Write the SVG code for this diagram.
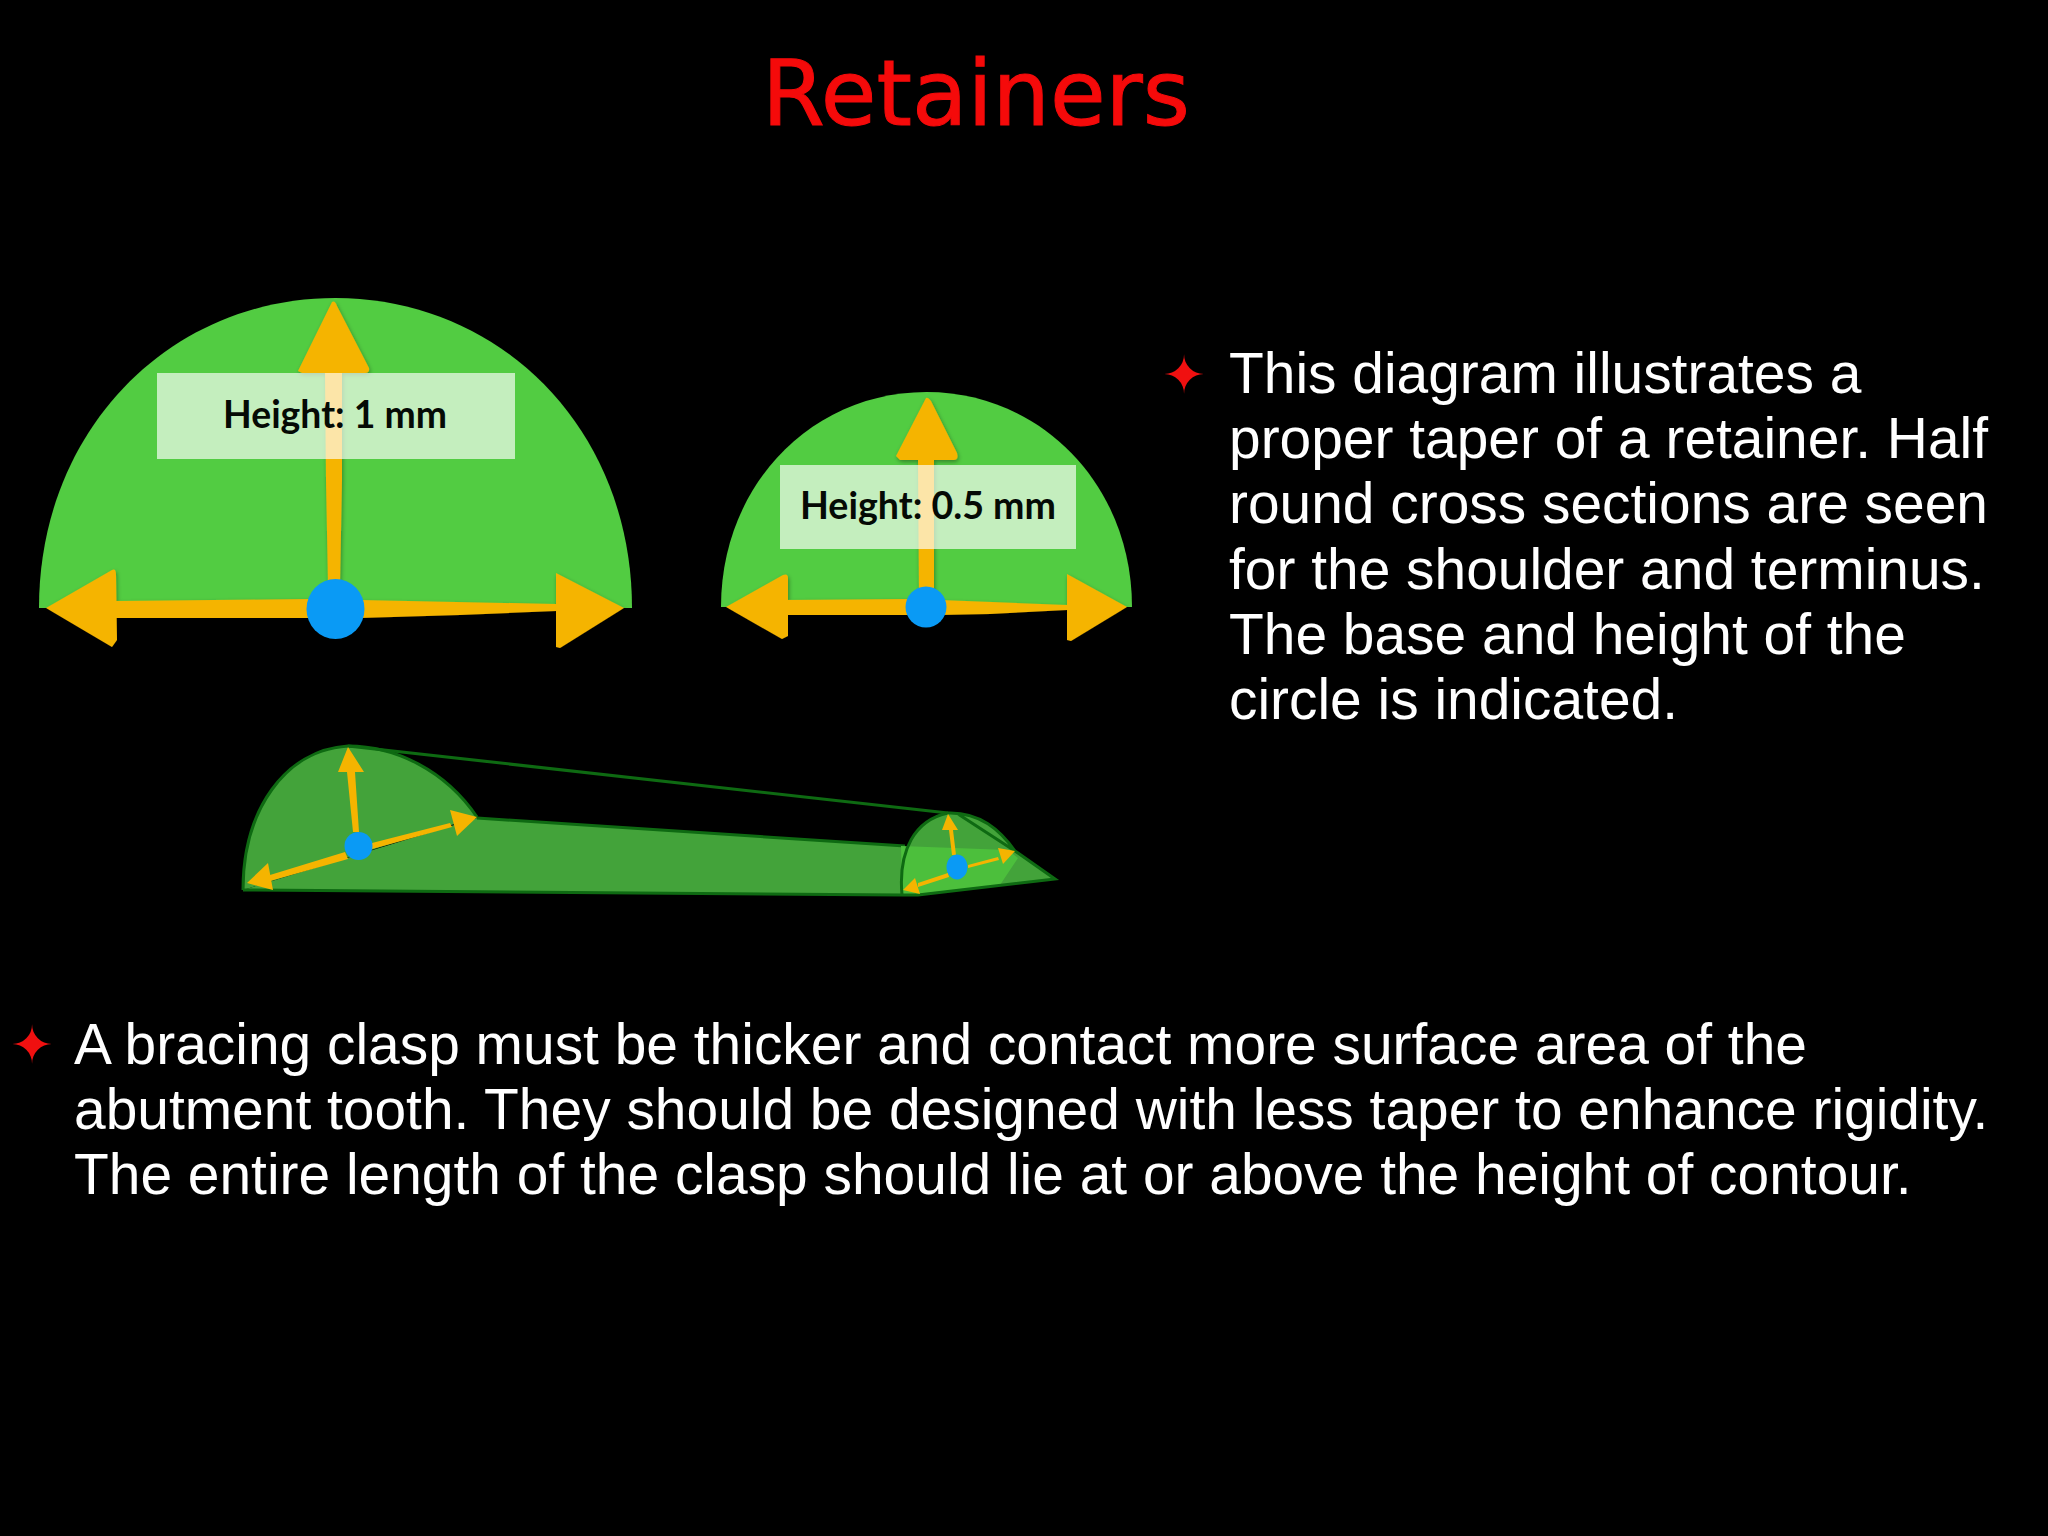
<svg xmlns="http://www.w3.org/2000/svg" width="2048" height="1536" viewBox="0 0 2048 1536">
<defs>
<filter id="sh" x="-10%" y="-10%" width="120%" height="120%"><feDropShadow dx="1" dy="2" stdDeviation="2" flood-color="#000" flood-opacity=".35"/></filter>
</defs>
<style>
.amber{fill:#f5b400}
.blue{fill:#0a9af5}
.semi{fill:#52cc42}
.label{fill:#fff;fill-opacity:.66}
.lt{font-family:"Lato","Liberation Sans",sans-serif;font-weight:700;fill:#050a05;text-anchor:middle}
.body{font-family:"Liberation Sans",Arial,sans-serif;font-size:56.900px;fill:#fff}
.bullet{font-family:"DejaVu Sans",sans-serif;font-size:52px;fill:#f01010;text-anchor:middle}
.dk{fill:none;stroke:#0e6a12;stroke-width:3}
</style>
<rect width="2048" height="1536" fill="#000"/>
<text id="title" x="976" y="125" font-family="DejaVu Sans, sans-serif" font-size="90.500" fill="#f50a0a" stroke="#f50a0a" stroke-width="1" text-anchor="middle">Retainers</text>

<g id="large-section">
<path class="semi" d="M39 608C39 430 170 298 335.500 298C501 298 632 430 632 608Z"/>
<g class="amber" filter="url(#sh)">
<path d="M325 373H342L342 480L340 585H328L326 480Z"/>
<path d="M332 302Q335 300 337 306L369 368Q370 373 365 373H302L298 371Z"/>
<path d="M116 601L310 599V618L116 618Z"/>
<path d="M46 608L112 570Q116 568 116 575L117 640L112 647Z"/>
<path d="M360 600L556 604V611L460 615L360 618Z"/>
<path d="M624 608L556 573V647L560 648Z"/>
</g>
<rect class="label" x="157" y="373" width="358" height="86"/>
<text class="lt" x="335" y="428" font-size="39" textLength="224" lengthAdjust="spacingAndGlyphs">Height: 1 mm</text>
<ellipse class="blue" cx="335.500" cy="609" rx="29" ry="30"/>
</g>

<g id="small-section">
<path class="semi" d="M721 607C721 485 812 392 926.500 392C1041 392 1132 485 1132 607Z"/>
<g class="amber" filter="url(#sh)">
<path d="M918 460H934V595H919Z"/>
<path d="M926 398Q928 397 931 401L957 453Q959 460 954 460H900L896 456Z"/>
<path d="M787 600L910 599V615L787 615Z"/>
<path d="M726 607L783 575Q788 573 788 578V636L782 639Z"/>
<path d="M940 600L1067 605V610L990 614L940 615Z"/>
<path d="M1127 607L1067 574V640L1071 641Z"/>
</g>
<rect class="label" x="780" y="465" width="296" height="84"/>
<text class="lt" x="928" y="519" font-size="38" textLength="256" lengthAdjust="spacingAndGlyphs">Height: 0.5 mm</text>
<circle class="blue" cx="926" cy="607" r="20.500"/>
</g>

<g id="taper-body">
<path d="M477 818L905 846L902 895L243 890Z" fill="#43a33a"/>
<path d="M243 890C243 810 285 750 348 746C395 746 445 770 477 817L243 890Z" fill="#43a33a"/>
<path class="dk" d="M477 818L905 846M243 890L902 895"/>
<path class="dk" d="M243 890C243 810 285 750 348 746C395 746 445 770 477 817"/>
<path class="dk" stroke-width="2.500" d="M348 746L948 813"/>
<path d="M902 895C898 850 915 820 948 813C980 812 1000 830 1015 851L1055 879L918 895Z" fill="#43a33a"/>
<path d="M901 846L1008 850L1018 858L1000 885L918 895L902 895Z" fill="#4cbf3c"/>
<path class="dk" d="M902 895C898 850 915 820 948 813C980 812 1000 830 1015 851L1055 879L918 895H902M958 814L1015 851"/>
</g>

<g id="taper-arrows">
<g class="amber">
<path d="M348 747L364 772H355L359 832H353L347 772H338Z"/>
<path d="M477 817L457 836L450 810Z"/>
<path d="M372 843L450 823L452 827L372 849Z"/>
<path d="M247 883L268 863L273 890Z"/>
<path d="M270 875L345 852L348 859L270 881Z"/>
<path d="M948 814L958 830H953L956 855H952L949 830H942Z"/>
<path d="M1015 851L1003 864L998 848Z"/>
<path d="M968 865L998 857L999 860L968 868Z"/>
<path d="M903 890L915 878L920 894Z"/>
<path d="M918 883L948 873L949 877L918 887Z"/>
</g>
<circle class="blue" cx="358.500" cy="846" r="14"/>
<ellipse class="blue" cx="957" cy="867" rx="10.500" ry="12.500"/>
</g>

<g id="text-right">
<text class="bullet" x="1184" y="393">✦</text>
<text class="body" x="1229" y="393">This diagram illustrates a</text>
<text class="body" x="1229" y="458">proper taper of a retainer. Half</text>
<text class="body" x="1229" y="523">round cross sections are seen</text>
<text class="body" x="1229" y="589">for the shoulder and terminus.</text>
<text class="body" x="1229" y="654">The base and height of the</text>
<text class="body" x="1229" y="719">circle is indicated.</text>
</g>

<g id="text-bottom">
<text class="bullet" x="32" y="1063">✦</text>
<text class="body" x="74" y="1064">A bracing clasp must be thicker and contact more surface area of the</text>
<text class="body" x="74" y="1129">abutment tooth. They should be designed with less taper to enhance rigidity.</text>
<text class="body" x="74" y="1194">The entire length of the clasp should lie at or above the height of contour.</text>
</g>
</svg>
